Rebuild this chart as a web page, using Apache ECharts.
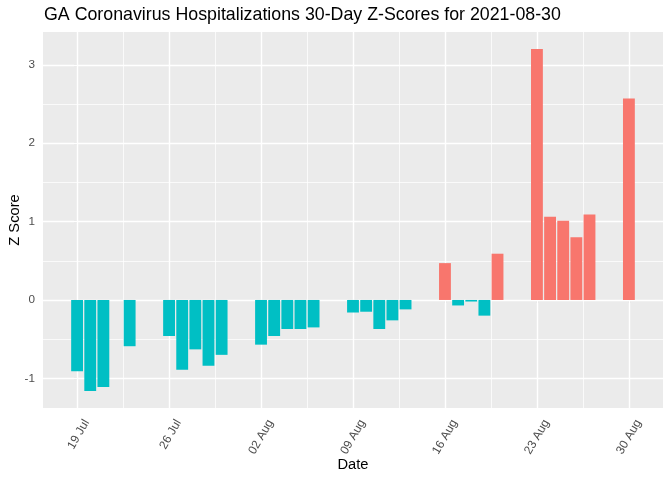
<!DOCTYPE html>
<html>
<head>
<meta charset="utf-8">
<script src="https://cdn.jsdelivr.net/npm/echarts@6/dist/echarts.min.js"></script>
<style>
html,body{margin:0;padding:0;background:#fff;}
#chart{width:672px;height:480px;}
</style>
</head>
<body>
<div id="chart"></div>
<script>
// ---- data ----
const dates = [
  '2021-07-19','2021-07-20','2021-07-21','2021-07-23',
  '2021-07-26','2021-07-27','2021-07-28','2021-07-29','2021-07-30',
  '2021-08-02','2021-08-03','2021-08-04','2021-08-05','2021-08-06',
  '2021-08-09','2021-08-10','2021-08-11','2021-08-12','2021-08-13',
  '2021-08-16','2021-08-17','2021-08-18','2021-08-19','2021-08-20',
  '2021-08-23','2021-08-24','2021-08-25','2021-08-26','2021-08-27',
  '2021-08-30'
];
const zScores = [
  -0.91, -1.16, -1.11, -0.59,
  -0.46, -0.89, -0.63, -0.84, -0.70,
  -0.57, -0.46, -0.37, -0.37, -0.35,
  -0.16, -0.15, -0.37, -0.26, -0.12,
  0.47, -0.07, -0.02, -0.20, 0.59,
  3.20, 1.06, 1.01, 0.80, 1.09,
  2.57
];
const tickDates = ['2021-07-19','2021-07-26','2021-08-02','2021-08-09','2021-08-16','2021-08-23','2021-08-30'];
const tickLabels = ['19 Jul','26 Jul','02 Aug','09 Aug','16 Aug','23 Aug','30 Aug'];
const yTicks = [-1, 0, 1, 2, 3];
const yMinor = [-0.5, 0.5, 1.5, 2.5];

// ---- helpers ----
const DAY = 86400000;
const origin = Date.parse(tickDates[0] + 'T00:00:00Z');
const toDay = d => Math.round((Date.parse(d + 'T00:00:00Z') - origin) / DAY);
const xs = dates.map(toDay);
const xTicks = tickDates.map(toDay);
const xMinor = [];
for (let i = 0; i < xTicks.length - 1; i++) xMinor.push((xTicks[i] + xTicks[i + 1]) / 2);

// ggplot-style expansion: bars width 0.9, 5% expansion
const barHalf = 0.45;
const xLo = Math.min(...xs) - barHalf, xHi = Math.max(...xs) + barHalf;
const xPad = (xHi - xLo) * 0.05;
const yLo = Math.min(...zScores, 0), yHi = Math.max(...zScores, 0);
const yPad = (yHi - yLo) * 0.05;

const FONT = "'Liberation Sans', Arial, sans-serif";

const chart = echarts.init(document.getElementById('chart'), null, {renderer: 'canvas'});
const majorStyle = {color: '#ffffff', width: 1.4, type: 'solid'};
const minorStyle = {color: '#ffffff', width: 0.75, type: 'solid'};

chart.setOption({
  animation: false,
  backgroundColor: '#ffffff',
  title: {
    text: 'GA Coronavirus Hospitalizations 30-Day Z-Scores for 2021-08-30',
    left: 44, top: 6, padding: 0,
    textStyle: {fontFamily: FONT, fontSize: 17.8, fontWeight: 'normal', color: '#000000'}
  },
  grid: {
    left: 43, right: 9, top: 32, bottom: 72,
    containLabel: false, outerBoundsMode: 'none',
    show: true, backgroundColor: '#EBEBEB', borderWidth: 0
  },
  xAxis: {
    type: 'value',
    min: xLo - xPad, max: xHi + xPad,
    name: 'Date', nameLocation: 'middle', nameGap: 49, nameMoveOverlap: false,
    nameTextStyle: {fontFamily: FONT, fontSize: 14.7, color: '#000000'},
    axisLine: {show: false},
    axisTick: {show: true, length: 3.7, customValues: xTicks, lineStyle: {color: '#333333', width: 1.07}},
    splitLine: {show: false},
    axisLabel: {
      customValues: xTicks,
      rotate: 60, margin: 7,
      verticalAlign: 'top', align: 'right', lineHeight: 22,
      fontFamily: FONT, fontSize: 12, color: '#4D4D4D',
      formatter: v => {
        const i = xTicks.indexOf(Math.round(v));
        return i >= 0 ? tickLabels[i] : '';
      }
    }
  },
  yAxis: {
    type: 'value',
    min: yLo - yPad, max: yHi + yPad,
    name: 'Z Score', nameLocation: 'middle', nameGap: 21, nameMoveOverlap: false,
    nameTextStyle: {fontFamily: FONT, fontSize: 14.7, color: '#000000'},
    axisLine: {show: false},
    axisTick: {show: true, length: 3.7, customValues: yTicks, lineStyle: {color: '#333333', width: 1.07}},
    splitLine: {show: false},
    axisLabel: {
      customValues: yTicks,
      margin: 8,
      fontFamily: FONT, fontSize: 11.7, color: '#4D4D4D',
      formatter: v => String(Math.round(v))
    }
  },
  series: [
    {
      type: 'line', data: [], z: 1, silent: true,
      markLine: {
        z: 1,
        silent: true, symbol: ['none', 'none'], animation: false,
        label: {show: false},
        emphasis: {disabled: true},
        data: [
          ...xMinor.map(v => ({xAxis: v, lineStyle: minorStyle})),
          ...yMinor.map(v => ({yAxis: v, lineStyle: minorStyle})),
          ...xTicks.map(v => ({xAxis: v, lineStyle: majorStyle})),
          ...yTicks.map(v => ({yAxis: v, lineStyle: majorStyle}))
        ]
      }
    },
    {
      type: 'bar', z: 3,
      barWidth: 11.85,
      data: xs.map((x, i) => [x, zScores[i]]),
      itemStyle: {
        color: p => p.value[1] > 0 ? '#F8766D' : '#00BFC4'
      }
    }
  ]
});
</script>
</body>
</html>
